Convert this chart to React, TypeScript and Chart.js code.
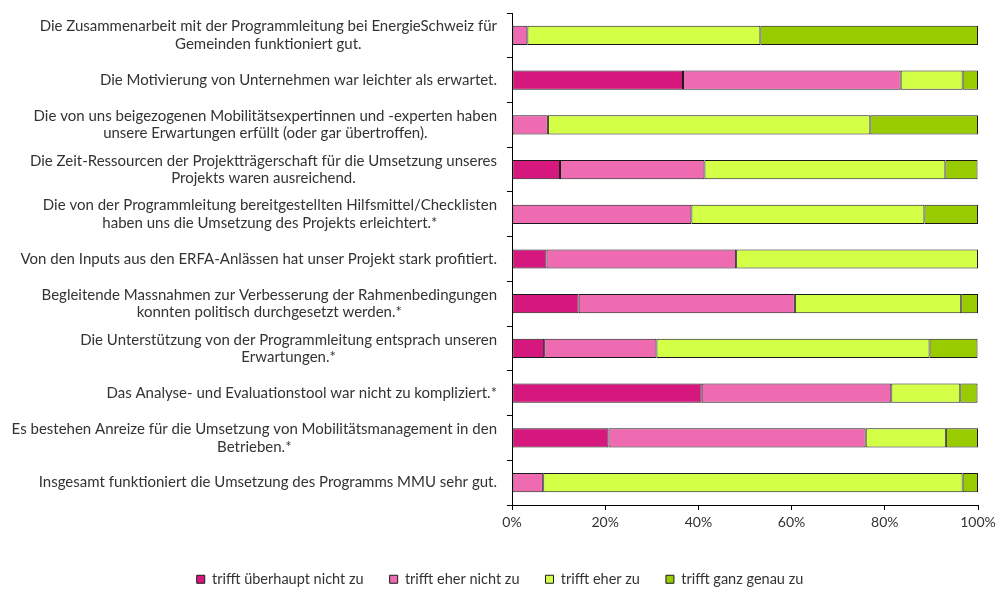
import React, { useEffect, useRef } from 'react';
import { Chart, registerables } from 'chart.js';
Chart.register(...registerables);

const categories: string[][] = [
  ['Die Zusammenarbeit mit der Programmleitung bei EnergieSchweiz für', 'Gemeinden funktioniert gut.'],
  ['Die Motivierung von Unternehmen war leichter als erwartet.'],
  ['Die von uns beigezogenen Mobilitätsexpertinnen und -experten haben', 'unsere Erwartungen erfüllt (oder gar übertroffen).'],
  ['Die Zeit-Ressourcen der Projektträgerschaft für die Umsetzung unseres', 'Projekts waren ausreichend.'],
  ['Die von der Programmleitung bereitgestellten Hilfsmittel/Checklisten', 'haben uns die Umsetzung des Projekts erleichtert.*'],
  ['Von den Inputs aus den ERFA-Anlässen hat unser Projekt stark profitiert.'],
  ['Begleitende Massnahmen zur Verbesserung der Rahmenbedingungen', 'konnten politisch durchgesetzt werden.*'],
  ['Die Unterstützung von der Programmleitung entsprach unseren', 'Erwartungen.*'],
  ['Das Analyse- und Evaluationstool war nicht zu kompliziert.*'],
  ['Es bestehen Anreize für die Umsetzung von Mobilitätsmanagement in den', 'Betrieben.*'],
  ['Insgesamt funktioniert die Umsetzung des Programms MMU sehr gut.'],
];

const seriesNames = ['trifft überhaupt nicht zu', 'trifft eher nicht zu', 'trifft eher zu', 'trifft ganz genau zu'];
const ueberhauptNicht = [0, 36.7, 0, 10.3, 0, 7.4, 14.3, 6.9, 40.7, 20.7, 0];
const eherNicht = [3.3, 46.7, 7.7, 31.0, 38.5, 40.7, 46.4, 24.1, 40.7, 55.2, 6.7];
const eherZu = [50.0, 13.3, 69.2, 51.7, 50.0, 51.9, 35.7, 58.6, 14.8, 17.2, 90.0];
const ganzGenau = [46.7, 3.3, 23.1, 6.9, 11.5, 0, 3.6, 10.3, 3.7, 6.9, 3.3];
const xTicks = [0, 20, 40, 60, 80, 100];

const colors = ['#D6187E', '#EF6BB1', '#D4FF47', '#99CC00'];
const FONT_FAMILY = 'Lato, "Open Sans", sans-serif';
const TEXT_COLOR = '#333333';

const yLabelPlugin = {
  id: 'yLabelPlugin',
  afterDraw(chart: any) {
    const ctx = chart.ctx;
    const scale = chart.scales.y;
    ctx.save();
    ctx.font = `15px ${FONT_FAMILY}`;
    ctx.fillStyle = TEXT_COLOR;
    ctx.textAlign = 'center';
    ctx.textBaseline = 'middle';
    const rightX = scale.right - 15;
    const lh = 17.5;
    categories.forEach((lines, i) => {
      const y = scale.getPixelForTick(i);
      const w = Math.max(...lines.map((l) => ctx.measureText(l).width));
      const cx = rightX - w / 2;
      const start = y - ((lines.length - 1) * lh) / 2;
      lines.forEach((l, j) => ctx.fillText(l, cx, start + j * lh));
    });
    ctx.restore();
  },
};

const legendFitPlugin = {
  id: 'legendFitPlugin',
  afterInit(chart: any) {
    const legend = chart.legend;
    if (!legend) return;
    const origFit = legend.fit;
    legend.fit = function () {
      origFit.call(legend);
      legend.height = 48;
    };
  },
  afterLayout(chart: any) {
    const legend = chart.legend;
    if (!legend) return;
    legend.left += 11;
    legend.right += 11;
  },
};

export default function App() {
  const ref = useRef<HTMLCanvasElement>(null);
  useEffect(() => {
    document.body.style.margin = '0';
    const data = [ueberhauptNicht, eherNicht, eherZu, ganzGenau];
    const chart = new Chart(ref.current!, {
      type: 'bar',
      data: {
        labels: categories.map((c) => c.join(' ')),
        datasets: seriesNames.map((name, i) => ({
          label: name,
          data: data[i],
          backgroundColor: colors[i],
          borderColor: '#1a1a1a',
          borderWidth: 1,
          borderSkipped: false,
          barPercentage: 0.43,
          categoryPercentage: 1,
        })),
      },
      options: {
        indexAxis: 'y',
        animation: false,
        responsive: false,
        maintainAspectRatio: false,
        layout: { padding: { left: 0, right: 20, top: 13, bottom: 0 } },
        scales: {
          x: {
            stacked: true,
            min: 0,
            max: 100,
            afterFit: (s: any) => { s.height = 41; s.paddingRight = 0; },
            afterBuildTicks: (s: any) => { s.ticks = xTicks.map((v) => ({ value: v })); },
            ticks: {
              callback: (v: any) => v + '%',
              color: TEXT_COLOR,
              font: { family: FONT_FAMILY, size: 14 },
              padding: 4,
              maxRotation: 0,
            },
            grid: { drawOnChartArea: false, tickLength: 5, color: '#000' },
            border: { color: '#000', width: 1 },
          },
          y: {
            stacked: true,
            offset: true,
            afterFit: (s: any) => { s.width = 512; },
            ticks: { color: 'rgba(0,0,0,0)', font: { family: FONT_FAMILY, size: 13 } },
            grid: { offset: true, drawOnChartArea: false, tickLength: 5, color: '#000' },
            border: { color: '#000', width: 1 },
          },
        },
        plugins: {
          legend: {
            position: 'bottom',
            labels: {
              boxWidth: 8,
              boxHeight: 8,
              padding: 26,
              color: TEXT_COLOR,
              font: { family: FONT_FAMILY, size: 14.5 },
            },
          },
          tooltip: { enabled: false },
        },
      },
      plugins: [yLabelPlugin, legendFitPlugin],
    });
    return () => chart.destroy();
  }, []);
  return (
    <div style={{ width: 998, height: 594 }}>
      <canvas ref={ref} width={998} height={594} style={{ display: 'block' }} />
    </div>
  );
}
